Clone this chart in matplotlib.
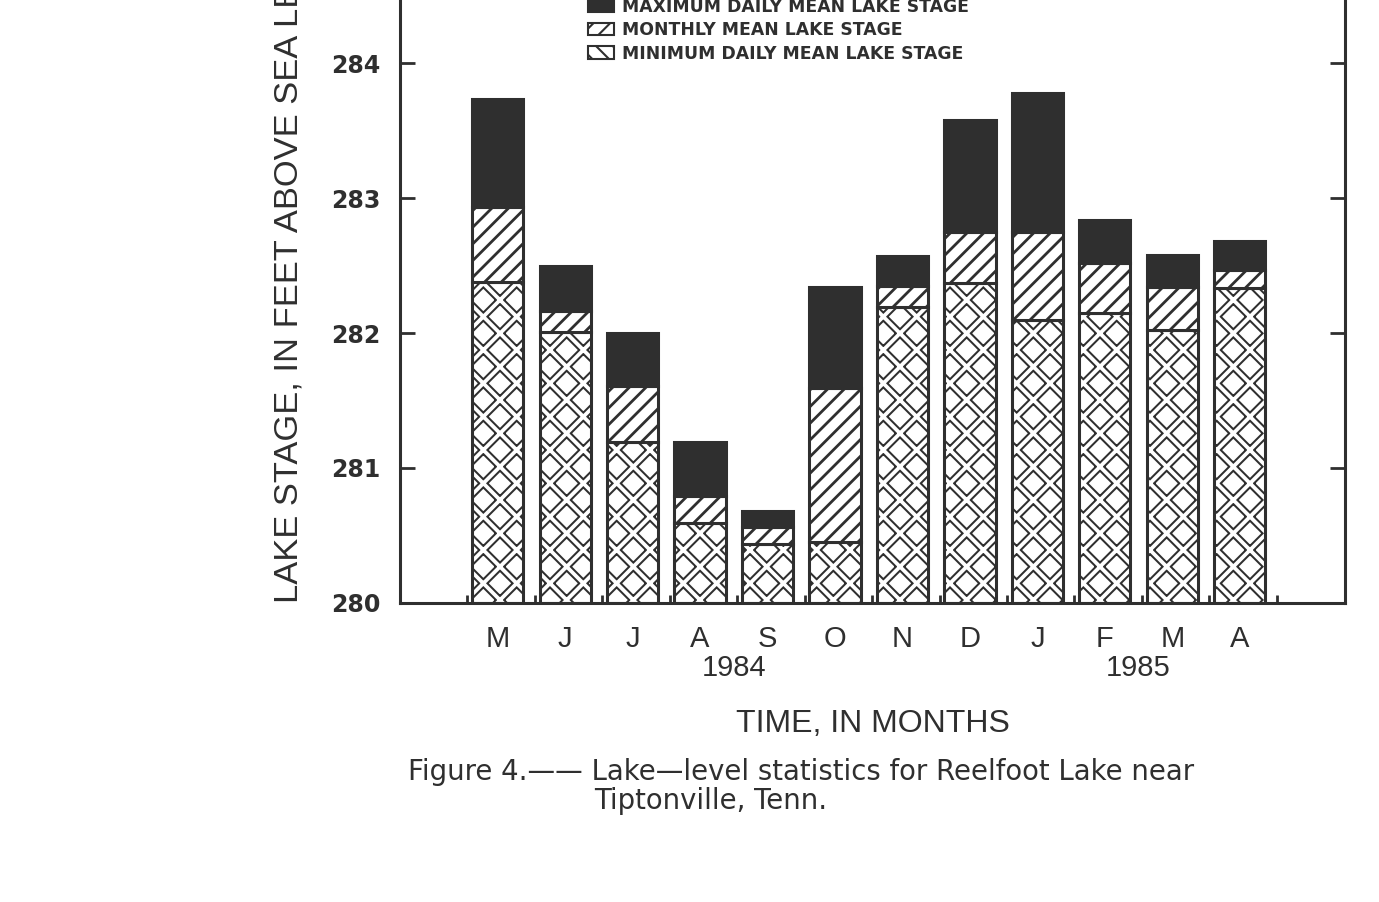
import numpy as np
import matplotlib
matplotlib.use("Agg")
import matplotlib.pyplot as plt
from matplotlib.patches import Patch

# lake stage, feet above sea level, May 1984 - April 1985
months = ["M", "J", "J", "A", "S", "O", "N", "D", "J", "F", "M", "A"]
max_stage = [283.73, 282.50, 282.00, 281.19, 280.68, 282.34, 282.57, 283.58, 283.78, 282.84, 282.58, 282.68]
mean_stage = [282.93, 282.16, 281.61, 280.79, 280.56, 281.59, 282.35, 282.75, 282.75, 282.52, 282.34, 282.47]
min_stage = [282.38, 282.01, 281.19, 280.59, 280.44, 280.45, 282.19, 282.37, 282.10, 282.15, 282.02, 282.33]
years = ["1984", "1985"]
year_pos = [3.5, 9.5]
base = 280

DARK = "#2f2f2f"
LABEL_FONT = ["Liberation Sans", "DejaVu Sans"]

plt.rcParams["hatch.linewidth"] = 1.5
plt.rcParams["text.color"] = DARK


def set_hatch_lw(bars, lw):
    # hatch linewidth is a global rc value, so apply it while each bar draws
    for b in bars:
        if hasattr(b, "set_hatch_linewidth"):
            b.set_hatch_linewidth(lw)
        orig = b.draw

        def draw(renderer, _orig=orig):
            with plt.rc_context({"hatch.linewidth": lw}):
                _orig(renderer)
        b.draw = draw


fig = plt.figure(figsize=(13.79, 9.02), dpi=100)
ax = fig.add_axes([0.290, 0.3315, 0.6853, 0.7483])

x = np.arange(len(months))
mx = np.array(max_stage)
mn = np.array(mean_stage)
lo = np.array(min_stage)
w = 0.76

# minimum daily mean: double-line crosshatch (thick dark hatch, white line inside)
b1 = ax.bar(x, lo - base, bottom=base, width=w, color="white", edgecolor=DARK, hatch="x", linewidth=0)
set_hatch_lw(b1, 5.6)
b2 = ax.bar(x, lo - base, bottom=base, width=w, color="none", edgecolor="white", hatch="x", linewidth=0)
set_hatch_lw(b2, 2.7)
ax.bar(x, lo - base, bottom=base, width=w, fill=False, edgecolor=DARK, linewidth=2.2)
# monthly mean
b3 = ax.bar(x, mn - lo, bottom=lo, width=w, color="white", edgecolor=DARK, hatch="//", linewidth=2.2)
set_hatch_lw(b3, 2.0)
# maximum daily mean
ax.bar(x, mx - mn, bottom=mn, width=w, color=DARK, edgecolor=DARK, linewidth=2.2)

ax.set_xlim(-1.45, 12.56)
ax.set_ylim(280, 285)
for s in ["left", "right", "bottom"]:
    ax.spines[s].set_linewidth(2.2)
    ax.spines[s].set_color(DARK)
ax.spines["top"].set_visible(False)

ax.set_yticks([280, 281, 282, 283, 284])
ax.tick_params(axis="y", direction="in", length=11, width=2, color=DARK, labelcolor=DARK,
               right=True, pad=14, labelsize=17)
for t in ax.get_yticklabels():
    t.set_fontweight("bold")

ax.set_xticks(x)
ax.set_xticklabels(months, fontsize=21, family=LABEL_FONT)
ax.set_xticks(np.arange(len(months) + 1) - 0.45, minor=True)
ax.tick_params(axis="x", which="major", length=0, pad=16, labelcolor=DARK)
ax.tick_params(axis="x", which="minor", direction="in", length=6, width=2, color=DARK)

for yr, p in zip(years, year_pos):
    ax.annotate(yr, xy=(p, 0), xycoords=ax.get_xaxis_transform(), xytext=(0, -37),
                textcoords="offset points", ha="center", va="top", fontsize=21, family=LABEL_FONT)

fig.text(0.633, 0.197, "TIME, IN MONTHS", ha="center", va="center", fontsize=23, family=LABEL_FONT)
fig.text(289 / 1379, 0.3315, "LAKE STAGE, IN FEET ABOVE SEA LEVEL", rotation=90,
         ha="center", va="bottom", fontsize=24.8, family=LABEL_FONT)

fig.text(408 / 1379, 1 - 772 / 902, "Figure 4.\u2014\u2014 Lake\u2014level statistics for Reelfoot Lake near",
         ha="left", va="center", fontsize=19.8)
fig.text(594 / 1379, 1 - 801 / 902, "Tiptonville, Tenn.", ha="left", va="center", fontsize=19.8)

handles = [
    Patch(facecolor=DARK, edgecolor=DARK, linewidth=1.5),
    Patch(facecolor="white", edgecolor=DARK, hatch="//", linewidth=1.5),
    Patch(facecolor="white", edgecolor=DARK, hatch="\\\\", linewidth=1.5),
]
labels = ["MAXIMUM DAILY MEAN LAKE STAGE", "MONTHLY MEAN LAKE STAGE", "MINIMUM DAILY MEAN LAKE STAGE"]
fig.legend(handles, labels, loc="upper left", bbox_to_anchor=(588 / 1379, 1.002), frameon=False,
           borderpad=0, borderaxespad=0, handlelength=1.5, handleheight=0.7, handletextpad=0.45,
           labelspacing=0.3, prop={"weight": "bold", "size": 12.4})

fig.savefig("out.png", dpi=100, facecolor="white")
